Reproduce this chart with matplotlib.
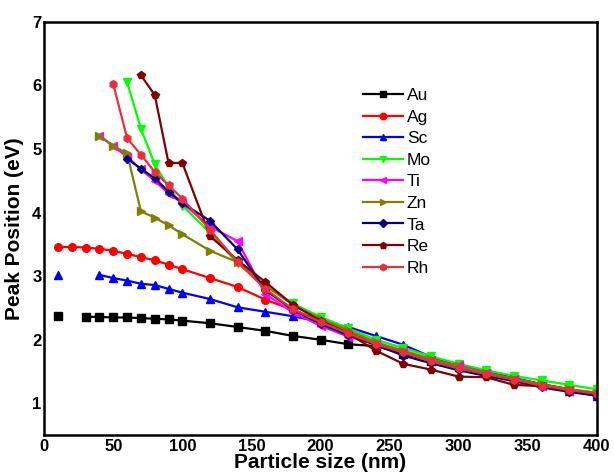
import numpy as np
import matplotlib.pyplot as plt

plt.rcParams["font.family"] = ["Liberation Sans", "DejaVu Sans"]

x_full = [10, 20, 30, 40, 50, 60, 70, 80, 90, 100, 120, 140, 160, 180, 200,
          220, 240, 260, 280, 300, 320, 340, 360, 380, 400]
x_tail = [120, 140, 160, 180, 200, 220, 240, 260, 280, 300, 320, 340, 360, 380, 400]
nan = np.nan

au = [2.37, nan, 2.36, 2.36, 2.35, 2.35, 2.34, 2.33, 2.32, 2.30, 2.26, 2.20, 2.14,
      2.06, 2.00, 1.93, 1.90, 1.78, 1.67, 1.57, 1.47, 1.38, 1.30, 1.22, 1.15]
ag = [3.46, 3.46, 3.45, 3.43, 3.40, 3.35, 3.30, 3.25, 3.18, 3.11, 2.97, 2.83, 2.63,
      2.47, 2.30, 2.12, 1.95, 1.80, 1.67, 1.56, 1.46, 1.38, 1.30, 1.22, 1.15]
sc = [3.02, nan, nan, 3.02, 2.97, 2.93, 2.88, 2.86, 2.80, 2.74, 2.64, 2.51, 2.44,
      2.37, 2.28, 2.20, 2.06, 1.92, 1.73, 1.60, 1.50, 1.40, 1.30, 1.20, 1.12]

x_mo = [60, 70, 80, 90, 100] + x_tail
mo = [6.05, 5.32, 4.76, 4.40, 4.11, 3.68, 3.20, 2.85, 2.57, 2.36, 2.18, 2.00, 1.87,
      1.74, 1.62, 1.52, 1.43, 1.36, 1.29, 1.22]
x_ti = [40, 50, 60, 70, 80, 90, 100] + x_tail
ti = [5.21, 5.04, 4.88, 4.68, 4.50, 4.30, 4.15, 3.78, 3.55, 2.72, 2.43, 2.22, 2.05,
      1.93, 1.80, 1.68, 1.60, 1.48, 1.38, 1.28, 1.20, 1.13]
x_zn = [40, 50, 60, 70, 80, 90, 100] + x_tail
zn = [5.21, 5.05, 4.93, 4.02, 3.92, 3.80, 3.66, 3.40, 3.22, 2.85, 2.55, 2.33, 2.15,
      1.96, 1.83, 1.70, 1.58, 1.48, 1.39, 1.30, 1.22, 1.17]
x_ta = [60, 70, 80, 90, 100] + x_tail
ta = [4.85, 4.69, 4.54, 4.33, 4.15, 3.87, 3.42, 2.78, 2.47, 2.25, 2.07, 1.92, 1.75,
      1.63, 1.52, 1.43, 1.35, 1.25, 1.18, 1.12]
x_re = [70, 80, 90, 100] + x_tail
re = [6.16, 5.85, 4.78, 4.78, 3.63, 3.25, 2.91, 2.55, 2.30, 2.10, 1.83, 1.62, 1.53,
      1.42, 1.41, 1.29, 1.27, 1.20, 1.15]
x_rh = [50, 60, 70, 80, 90, 100] + x_tail
rh = [6.02, 5.17, 4.91, 4.64, 4.43, 4.22, 3.73, 3.22, 2.80, 2.48, 2.28, 2.10, 1.93,
      1.80, 1.66, 1.55, 1.46, 1.37, 1.28, 1.21, 1.15]

series = [
    ("Au", x_full, au, "black", "s"),
    ("Ag", x_full, ag, "red", "o"),
    ("Sc", x_full, sc, "blue", "^"),
    ("Mo", x_mo, mo, "#00ff00", "v"),
    ("Ti", x_ti, ti, "magenta", "<"),
    ("Zn", x_zn, zn, "#808000", ">"),
    ("Ta", x_ta, ta, "#000080", "D"),
    ("Re", x_re, re, "#800000", "p"),
    ("Rh", x_rh, rh, "#ee2d3c", "h"),
]

fig = plt.figure(figsize=(6.14, 4.75), dpi=100)
ax = fig.add_axes([0.072, 0.084, 0.900, 0.870])

for name, xs, ys, c, m in series:
    ms = 5.5 if m != "D" else 4.5
    ax.plot(xs, ys, color=c, marker=m, markersize=ms, linewidth=1.6, label=name)

ax.set_xlim(0, 400)
ax.set_ylim(0.5, 7)
ax.set_xticks([0, 50, 100, 150, 200, 250, 300, 350, 400])
ax.set_yticks([1, 2, 3, 4, 5, 6, 7])
ax.tick_params(axis="x", length=0, pad=3, labelsize=12)
ax.tick_params(axis="y", length=0, pad=2, labelsize=12)
for lab in ax.get_xticklabels() + ax.get_yticklabels():
    lab.set_fontweight("bold")
for sp in ax.spines.values():
    sp.set_linewidth(1.8)

ax.set_xlabel("Particle size (nm)", fontsize=15, fontweight="bold", labelpad=-1)
ax.set_ylabel("Peak Position (eV)", fontsize=15, fontweight="bold", labelpad=6)

leg = ax.legend(loc="upper left", bbox_to_anchor=(0.548, 0.878), frameon=False,
                fontsize=12.5, handlelength=2.3, labelspacing=0.37,
                handletextpad=0.25, markerscale=0.85)

fig.savefig("out.png", dpi=100)
